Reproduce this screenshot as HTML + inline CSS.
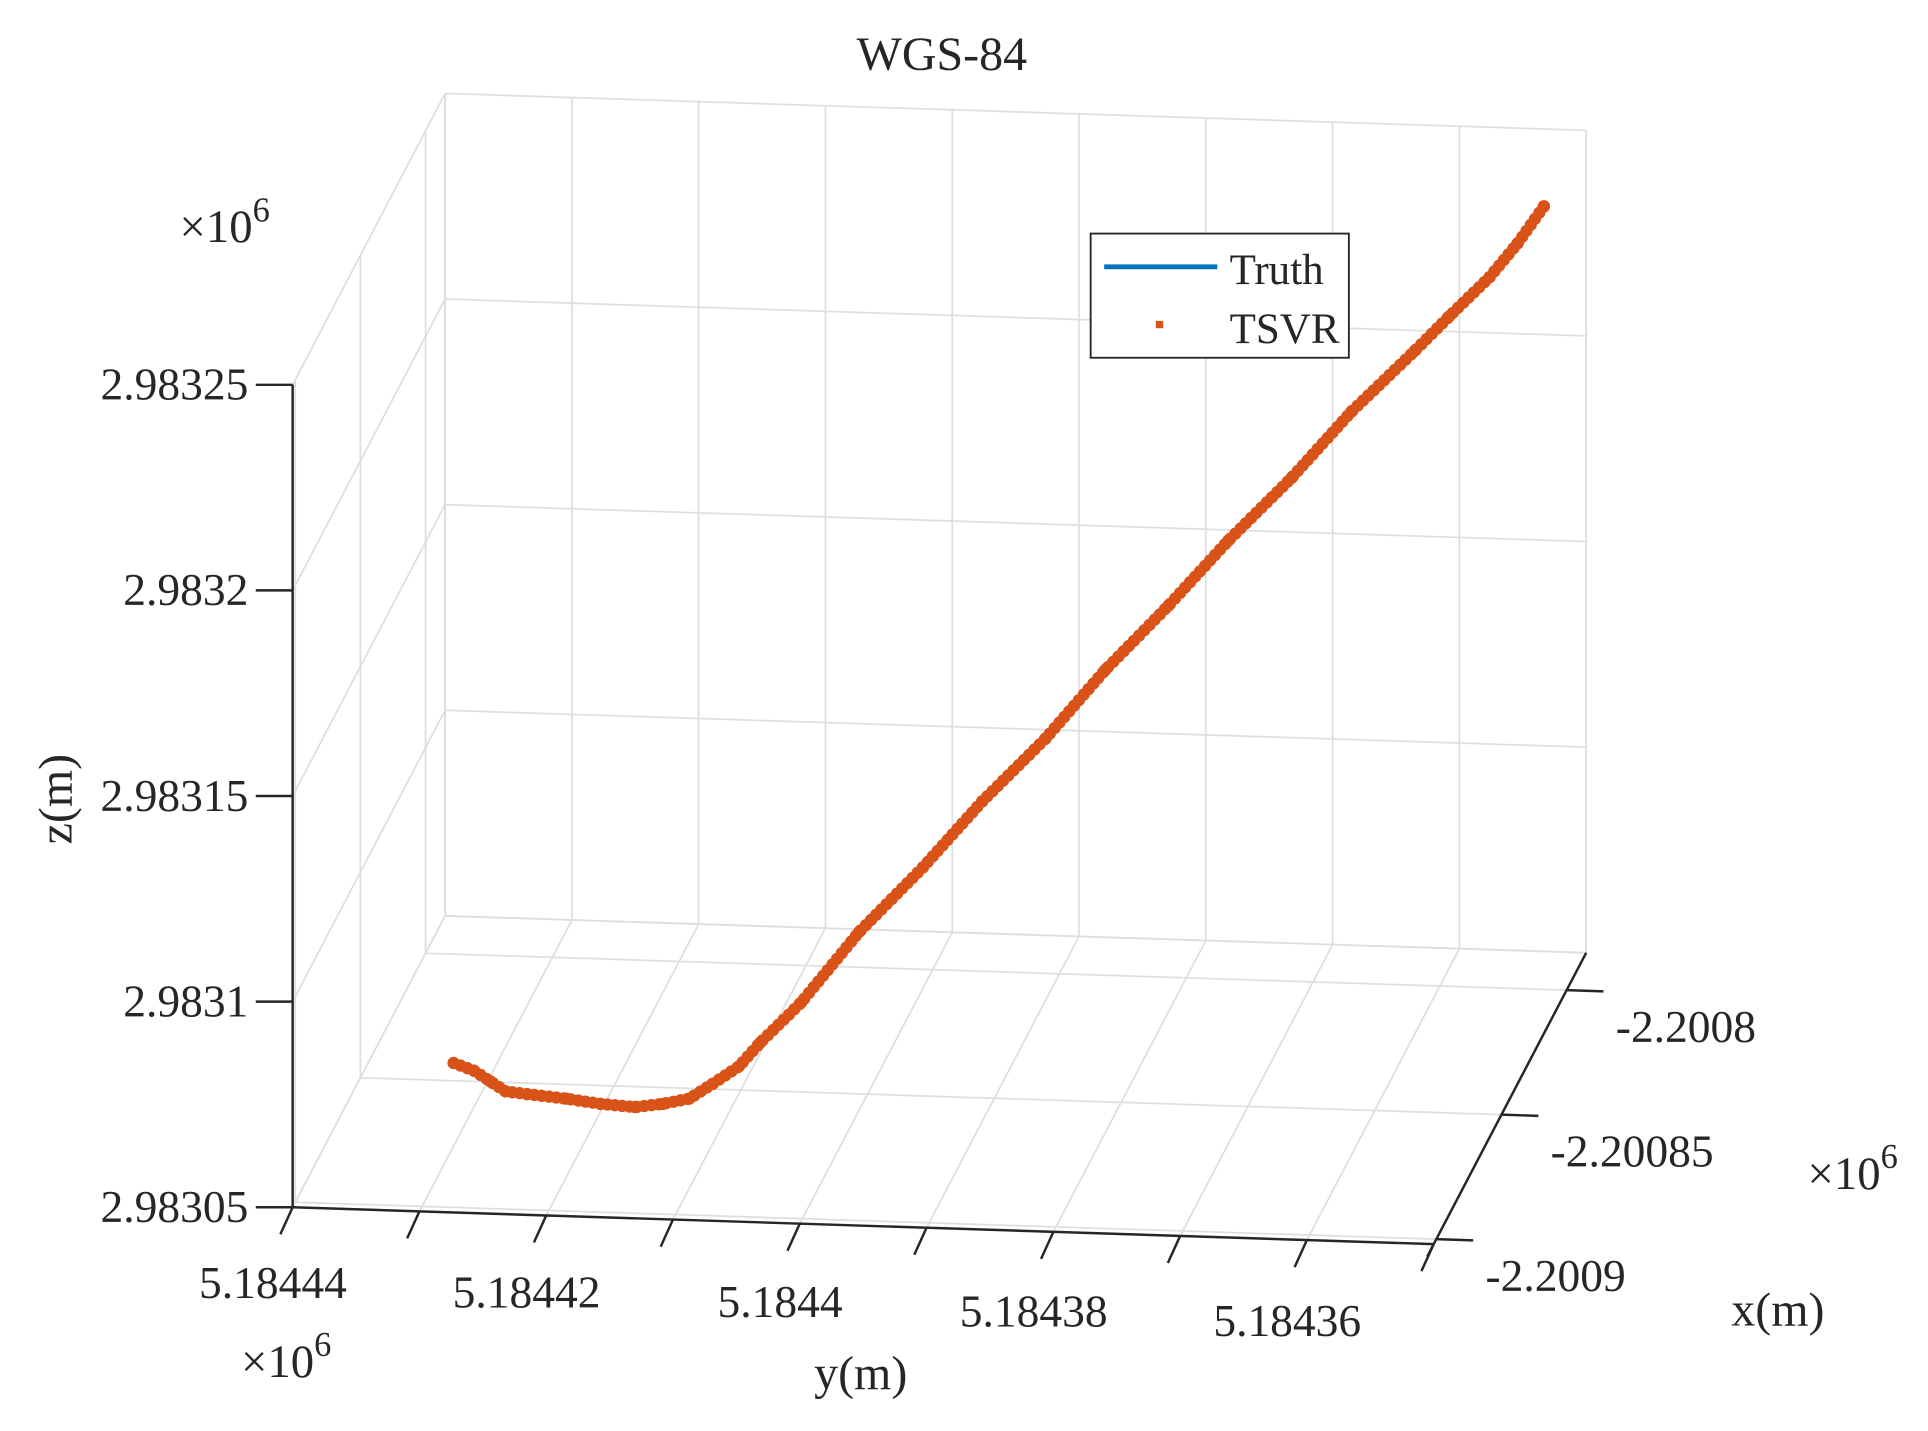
<!DOCTYPE html>
<html><head><meta charset="utf-8"><style>
html,body{margin:0;padding:0;background:#fff;}
svg{display:block;}
text{font-family:"Liberation Serif",serif;fill:#262626;}
</style></head><body>
<svg id="chart" width="1928" height="1431" viewBox="0 0 1568 1164" preserveAspectRatio="none" xmlns="http://www.w3.org/2000/svg">
<text x="766" y="57" font-size="39" text-anchor="middle">WGS-84</text>
<g id="grid"></g>
<g id="axes"></g>
<g id="series"></g>
<text transform="translate(58,650) rotate(-90)" font-size="39" text-anchor="middle">z(m)</text>
<text x="700" y="1130" font-size="39" text-anchor="middle">y(m)</text>
<text x="1408" y="1078" font-size="39">x(m)</text>
<text x="146" y="197" font-size="38">×10<tspan dy="-17" font-size="28">6</tspan></text>
<text x="196" y="1120" font-size="38">×10<tspan dy="-17" font-size="28">6</tspan></text>
<text x="1470" y="967" font-size="38">×10<tspan dy="-17" font-size="28">6</tspan></text>
<g>
<rect x="887" y="190" width="210" height="101" fill="#fff" stroke="#262626" stroke-width="1.5"/>
<line x1="898" y1="217" x2="990" y2="217" stroke="#0072BD" stroke-width="4"/>
<text x="1000" y="231" font-size="35">Truth</text>
<rect x="940" y="261" width="6" height="6" fill="#D95319"/>
<text x="1000" y="279" font-size="35">TSVR</text>
</g>
</svg>
<script>
// Data (metres)
const truthX = [-2200867,-2200867,-2200867,-2200867,-2200867,-2200867,-2200867,-2200867,-2200867,-2200867,-2200867,-2200867,-2200867,-2200867,-2200867,-2200867,-2200867,-2200867,-2200867,-2200867,-2200867,-2200867,-2200867,-2200867,-2200867,-2200867,-2200867,-2200867];
const truthY = [5184430.8,5184429.4,5184427.9,5184426.9,5184425.0,5184422.1,5184419.2,5184416.7,5184414.3,5184412.4,5184410.4,5184408.5,5184406.6,5184403.6,5184398.8,5184394.0,5184389.1,5184384.3,5184379.4,5184374.6,5184369.7,5184364.9,5184360.0,5184355.2,5184352.3,5184349.3,5184346.9,5184345.0];
const truthZ = [2983064.6,2983063.3,2983060.4,2983058.4,2983057.7,2983057.1,2983055.9,2983055.6,2983056.4,2983058.1,2983061.6,2983066.3,2983072.1,2983082.3,2983099.8,2983116.1,2983132.5,2983148.5,2983165.4,2983181.8,2983197.8,2983213.8,2983230.1,2983245.6,2983254.0,2983264.1,2983272.3,2983281.6];
const tsvrX = truthX.slice();
const tsvrY = [5184430.9,5184429.3,5184428.0,5184426.8,5184425.1,5184422.0,5184419.3,5184416.6,5184414.4,5184412.3,5184410.5,5184408.4,5184406.7,5184403.5,5184398.9,5184393.9,5184389.2,5184384.2,5184379.5,5184374.5,5184369.8,5184364.8,5184360.1,5184355.1,5184352.4,5184349.2,5184347.0,5184344.9];
const tsvrZ = [2983064.8,2983063.1,2983060.6,2983058.3,2983057.8,2983057.0,2983056.0,2983055.5,2983056.5,2983058.0,2983061.7,2983066.2,2983072.2,2983082.2,2983099.9,2983116.0,2983132.6,2983148.4,2983165.5,2983181.7,2983197.9,2983213.7,2983230.2,2983245.5,2983254.1,2983264.0,2983272.4,2983281.7];
const zTicks = [2983050,2983100,2983150,2983200,2983250];
const zTickLabels = ["2.98305","2.9831","2.98315","2.9832","2.98325"];
const yTicks = [5184440,5184430,5184420,5184410,5184400,5184390,5184380,5184370,5184360,5184350];
const yTickLabels = ["5.18444","","5.18442","","5.1844","","5.18438","","5.18436",""];
const xTicks = [-2200900,-2200850,-2200800];
const xTickLabels = ["-2.2009","-2.20085","-2.2008"];

const XMIN=-2200902, XMAX=-2200785, YMAX=5184440, YMIN=5184350, ZMIN=2983050, ZMAX=2983250;
const O=[238,982], EU=[928,30], ET=[124,-237], EW=[0,-669];
function tOf(x){return (x-XMIN)/(XMAX-XMIN);}
function uOf(y){return (YMAX-y)/(YMAX-YMIN);}
function wOf(z){return (z-ZMIN)/(ZMAX-ZMIN);}
function P(u,t,w){return [O[0]+u*EU[0]+t*ET[0]+w*EW[0], O[1]+u*EU[1]+t*ET[1]+w*EW[1]];}
function proj(x,y,z){return P(uOf(y),tOf(x),wOf(z));}
const NS='http://www.w3.org/2000/svg';
function mk(tag,parent,attrs){const e=document.createElementNS(NS,tag);for(const k in attrs)e.setAttribute(k,attrs[k]);parent.appendChild(e);return e;}
const grid=document.getElementById('grid'), axes=document.getElementById('axes'), series=document.getElementById('series');
function gl(a,b){const l=mk('line',grid,{x1:a[0],y1:a[1],x2:b[0],y2:b[1],stroke:'#dedede','stroke-width':1.4});

}
yTicks.forEach(y=>{const u=uOf(y);gl(P(u,1,0),P(u,1,1));});
gl(P(1,1,0),P(1,1,1));
zTicks.forEach(z=>{const w=wOf(z);gl(P(0,1,w),P(1,1,w));});
zTicks.forEach(z=>{const w=wOf(z);gl(P(0,0,w),P(0,1,w));});
xTicks.forEach(x=>{const t=tOf(x);gl(P(0,t,0),P(0,t,1));});
gl(P(0,1,0),P(0,1,1));
yTicks.forEach(y=>{const u=uOf(y);gl(P(u,0,0),P(u,1,0));});
gl(P(1,0,0),P(1,1,0));
xTicks.forEach(x=>{const t=tOf(x);gl(P(0,t,0),P(1,t,0));});
gl(P(0,1,0),P(1,1,0));
function al(a,b,name){const l=mk('line',axes,{x1:a[0],y1:a[1],x2:b[0],y2:b[1],stroke:'#262626','stroke-width':2});

}
function tx(x,y,s,anchor,name){const e=mk('text',axes,{x:x,y:y,'font-size':37,'text-anchor':anchor});e.textContent=s;

}
al(P(0,0,0),P(0,0,1),'z-axis-line');
zTicks.forEach((z,i)=>{const p=P(0,0,wOf(z));al([p[0]-30,p[1]],p,'z-tick');tx(p[0]-36,p[1]+12,zTickLabels[i],'end','z-tick-label');});
al(P(0,0,0),P(1,0,0),'y-axis-line');
yTicks.forEach((y,i)=>{const p=P(uOf(y),0,0);al(p,[p[0]-10,p[1]+22],'y-tick');if(yTickLabels[i])tx(p[0]-16,p[1]+74+i*0.5,yTickLabels[i],'middle','y-tick-label');});
const xa=P(1,tOf(XMIN-5),0);al(xa,P(1,1,0),'x-axis-line');
xTicks.forEach((x,i)=>{const p=P(1,tOf(x),0);al(p,[p[0]+30,p[1]+1],'x-tick');tx(p[0]+40,p[1]+42,xTickLabels[i],'start','x-tick-label');});
const tp=truthX.map((x,i)=>proj(x,truthY[i],truthZ[i]));
const truth=mk('polyline',series,{points:tp.map(p=>p.join(',')).join(' '),fill:'none',stroke:'#0072BD','stroke-width':4,'stroke-linejoin':'round'});


const sp=tsvrX.map((x,i)=>proj(x,tsvrY[i],tsvrZ[i]));
const tsvr=mk('polyline',series,{points:sp.map(p=>p.join(',')).join(' '),fill:'none',stroke:'#D95319','stroke-width':10,'stroke-linecap':'round','stroke-linejoin':'round','stroke-dasharray':'0 6'});


sp.forEach(p=>{const c=mk('circle',series,{cx:p[0],cy:p[1],r:5,fill:'#D95319'});

});
</script>
</body></html>
